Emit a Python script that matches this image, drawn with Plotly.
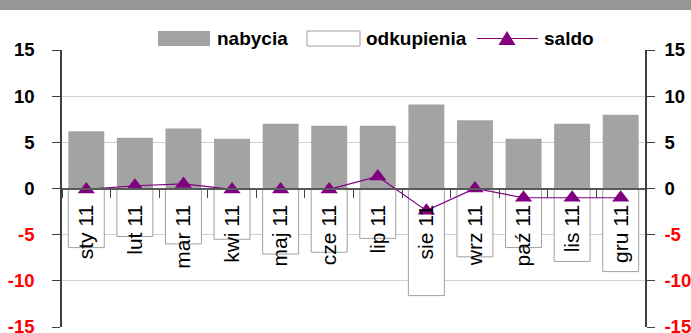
import plotly.graph_objects as go

# Monthly fund flows, billions
months = ["sty 11", "lut 11", "mar 11", "kwi 11", "maj 11", "cze 11",
          "lip 11", "sie 11", "wrz 11", "paź 11", "lis 11", "gru 11"]
nabycia = [6.2, 5.5, 6.5, 5.4, 7.0, 6.8, 6.8, 9.1, 7.4, 5.4, 7.0, 8.0]
odkupienia = [-6.4, -5.2, -6.0, -5.5, -7.1, -6.9, -5.4, -11.6, -7.4, -6.4, -7.9, -9.0]
saldo = [-0.1, 0.3, 0.5, -0.1, -0.1, -0.1, 1.3, -2.4, 0.0, -1.0, -1.0, -1.0]

y_ticks = [-15, -10, -5, 0, 5, 10, 15]
y_range = [-15, 15]

W, H = 691, 333
M_L, M_R, M_T, M_B = 62, 46, 50, 6
PW, PH = W - M_L - M_R, H - M_T - M_B

BAR_GRAY = "#A3A3A3"
PURPLE = "#800080"
AXIS = "#404040"


def px(x):
    return (x - M_L) / PW


def py(y):
    return (H - M_B - y) / PH


def tick_text(v):
    if v < 0:
        return f'<span style="color:#FF0000">{v}</span>'
    return str(v)


fig = go.Figure()
fig.add_trace(go.Bar(x=months, y=nabycia, name="nabycia",
                     marker=dict(color=BAR_GRAY, line=dict(width=0))))
fig.add_trace(go.Bar(x=months, y=odkupienia, name="odkupienia",
                     marker=dict(color="white", line=dict(color="#A0A0A0", width=1))))
fig.add_trace(go.Scatter(x=months, y=saldo, name="saldo", mode="lines+markers",
                         line=dict(color=PURPLE, width=1.2),
                         marker=dict(symbol="triangle-up", size=15, color=PURPLE)))
# right-hand copy of the value axis
fig.add_trace(go.Scatter(x=months, y=saldo, yaxis="y2", mode="lines",
                         line=dict(width=0), hoverinfo="skip", showlegend=False,
                         opacity=0))

yaxis_common = dict(
    range=y_range, tickvals=y_ticks, ticktext=[tick_text(v) for v in y_ticks],
    tickfont=dict(family="Liberation Sans", size=18.5, color="black", weight="bold"),
    ticks="outside", ticklen=8, tickcolor=AXIS,
    showline=True, linecolor=AXIS, linewidth=1.5,
    zeroline=False, fixedrange=True, automargin=False,
    ticklabeloverflow="allow",
)

fig.update_layout(
    width=W, height=H,
    margin=dict(l=M_L, r=M_R, t=M_T, b=M_B, pad=0),
    paper_bgcolor="white", plot_bgcolor="white",
    font=dict(family="Liberation Sans", color="black"),
    barmode="relative", bargap=0.26,
    showlegend=False,
    xaxis=dict(
        type="category", anchor="free", position=0.5,
        range=[-0.5, len(months) - 0.5], automargin=False,
        showline=True, linecolor="#595959", linewidth=2,
        ticks="outside", ticklen=8, tickcolor=AXIS, tickson="boundaries",
        tickangle=-90, tickfont=dict(size=21, family="Liberation Sans"),
        ticklabelstandoff=7, showgrid=False, layer="above traces",
    ),
    yaxis=dict(**yaxis_common, side="left", showgrid=True, gridcolor="#D0D0D0",
               gridwidth=1, ticklabelstandoff=14),
    yaxis2=dict(**yaxis_common, side="right", overlaying="y", showgrid=False,
                ticklabelstandoff=6),
)

shapes = [
    # header band
    dict(type="rect", xref="paper", yref="paper", x0=px(0), x1=px(W), y0=py(10), y1=py(0),
         fillcolor="#969696", line=dict(width=0), layer="above"),
    # legend background
    dict(type="rect", xref="paper", yref="paper", x0=px(143), x1=px(597), y0=py(54), y1=py(27),
         fillcolor="white", line=dict(width=0), layer="above"),
    # legend swatches
    dict(type="rect", xref="paper", yref="paper", x0=px(158), x1=px(210), y0=py(46), y1=py(31),
         fillcolor=BAR_GRAY, line=dict(width=0), layer="above"),
    dict(type="rect", xref="paper", yref="paper", x0=px(307), x1=px(360), y0=py(46), y1=py(31),
         fillcolor="white", line=dict(color="#A0A0A0", width=1), layer="above"),
    dict(type="line", xref="paper", yref="paper", x0=px(477), x1=px(538), y0=py(38.5), y1=py(38.5),
         line=dict(color=PURPLE, width=1.2), layer="above"),
    dict(type="path", xref="paper", yref="paper",
         path=(f"M{px(507)},{py(31)} L{px(498.5)},{py(45)} "
               f"L{px(515.5)},{py(45)} Z"),
         fillcolor=PURPLE, line=dict(color=PURPLE, width=0), layer="above"),
]
fig.update_layout(shapes=shapes)

legend_labels = [("nabycia", 215), ("odkupienia", 364), ("saldo", 542)]
for label, x in legend_labels:
    fig.add_annotation(text=f"<b>{label}</b>", xref="paper", yref="paper",
                       x=px(x), y=py(38.5), xanchor="left", yanchor="middle",
                       showarrow=False, font=dict(size=19, color="black"))

fig.write_html("out.html")
